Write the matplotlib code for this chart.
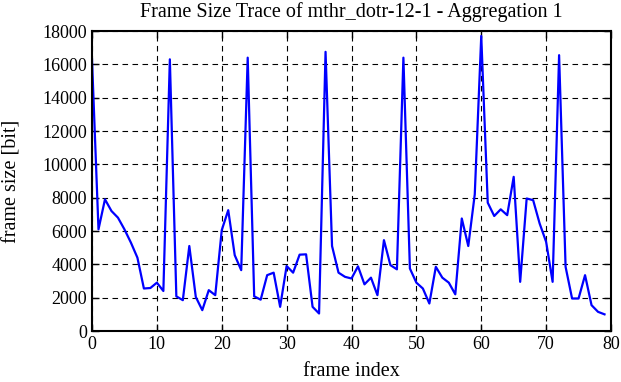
import numpy as np
import matplotlib
matplotlib.use('Agg')
import matplotlib.pyplot as plt

plt.rcParams['font.family'] = ['Liberation Serif', 'DejaVu Serif']

########################### Data ###########################
frame_index = np.arange(80)
frame_size = [16300, 6100, 7900, 7200, 6800, 6100, 5300, 4400, 2550, 2580,
              2900, 2400, 16300, 2080, 1850, 5100, 2040, 1250, 2450, 2150,
              6050, 7250, 4550, 3650, 16400, 2080, 1880, 3350, 3500, 1450,
              3900, 3500, 4580, 4600, 1450, 1050, 16750, 5100, 3500, 3250,
              3150, 3880, 2800, 3200, 2150, 5450, 3950, 3700, 16400, 3750,
              2900, 2550, 1650, 3850, 3200, 2900, 2200, 6750, 5100, 8200,
              17700, 7700, 6900, 7300, 6950, 9250, 2950, 7950, 7850, 6450,
              5350, 2950, 16550, 3850, 1950, 1950, 3350, 1550, 1150, 1000]
xticks = np.arange(0, 81, 10)
yticks = np.arange(0, 18001, 2000)

########################### Plot ###########################
fig = plt.figure(figsize=(6.21, 3.82), dpi=100)
ax = fig.add_axes([92/621, 51/382, 519/621, 300/382])

ax.plot(frame_index, frame_size, color='#0000ff', lw=1.6)

ax.set_xlim(0, 80)
ax.set_ylim(0, 18000)
ax.set_xticks(xticks)
ax.set_yticks(yticks)
ax.grid(True, color='black', linestyle=(0, (5, 4)), lw=0.8)
ax.tick_params(direction='in', top=True, right=True, length=5, width=1, labelsize=13)
for s in ax.spines.values():
    s.set_linewidth(1.5)

# labels placed by centre, as in the reference
ax.set_xlabel('frame index', fontsize=14.5, va='center')
ax.set_ylabel('frame size [bit]', fontsize=14.5, va='center')
ax.xaxis.set_label_coords(0.5, -41/300)
ax.yaxis.set_label_coords(-80/519, 0.5)
fig.text(0.5665, 1 - 12/382, 'Frame Size Trace of mthr_dotr-12-1 - Aggregation 1',
         fontsize=14.5, ha='center', va='center')

fig.savefig('out.png', dpi=100)
